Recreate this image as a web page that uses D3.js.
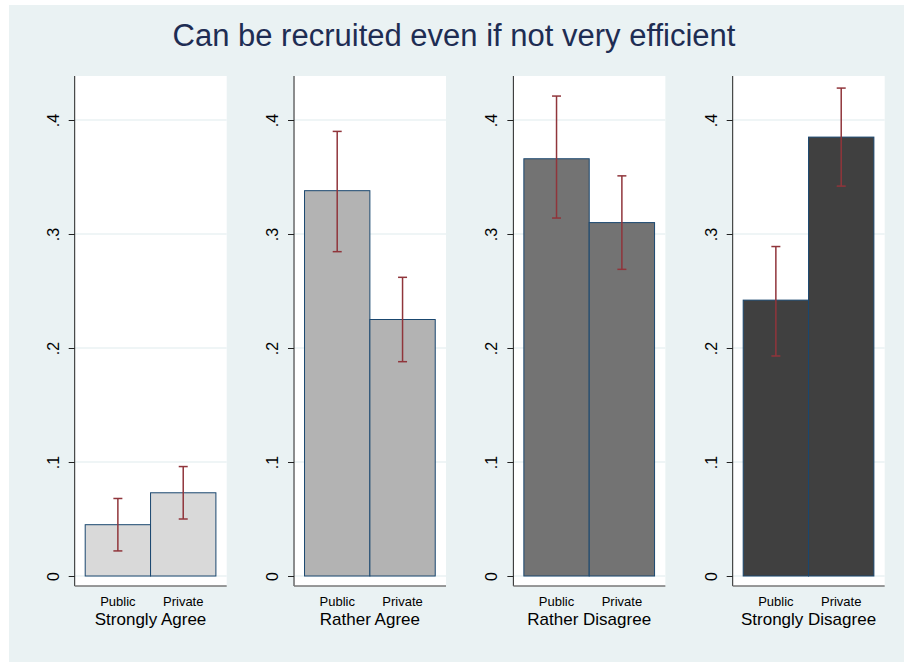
<!DOCTYPE html>
<html><head><meta charset="utf-8">
<script src="https://cdn.jsdelivr.net/npm/d3@7"></script>
<style>body{margin:0;background:#fff}svg{display:block}text{font-family:"Liberation Sans",Arial,Helvetica,sans-serif}</style>
</head><body>
<script>
const title = "Can be recruited even if not very efficient";
const groups = ["Strongly Agree","Rather Agree","Rather Disagree","Strongly Disagree"];
const sectors = ["Public","Private"];
const publicMean = [0.045, 0.338, 0.366, 0.242];
const publicLo   = [0.022, 0.2845, 0.314, 0.193];
const publicHi   = [0.068, 0.390, 0.421, 0.289];
const privateMean= [0.073, 0.225, 0.310, 0.385];
const privateLo  = [0.050, 0.188, 0.269, 0.342];
const privateHi  = [0.096, 0.262, 0.351, 0.428];
const yTicks = [0, 0.1, 0.2, 0.3, 0.4];
const yTickLabels = ["0", ".1", ".2", ".3", ".4"];
const barColors = ["#d9d9d9","#b3b3b3","#737373","#404040"];

const W = 904, H = 662;
const svg = d3.select("body").append("svg").attr("width", W).attr("height", H);
svg.append("rect").attr("x",9).attr("y",5).attr("width",W-9).attr("height",H-5).attr("fill","#eaf2f3");
svg.append("text").attr("x",454).attr("y",46).attr("text-anchor","middle")
  .attr("font-size",31).attr("fill","#1e2d53").text(title);

const y = d3.scaleLinear().domain([0,0.4]).range([576,120]);
const plotTop = 76, plotBottom = 586, plotW = 152;

groups.forEach((g,i)=>{
  const ax = 74.7 + i*219.33;
  const gp = svg.append("g");
  gp.append("rect").attr("x",ax).attr("y",plotTop).attr("width",plotW).attr("height",plotBottom-plotTop).attr("fill","#fff");
  gp.selectAll("line.grid").data(yTicks).enter().append("line")
    .attr("x1",ax).attr("x2",ax+plotW).attr("y1",d=>y(d)).attr("y2",d=>y(d))
    .attr("stroke","#eaf2f3").attr("stroke-width",1.5);
  const x = d3.scaleBand().domain(sectors).range([ax+10.5, ax+141.2]).padding(0);
  const rows = [
    {s:"Public", m:publicMean[i], lo:publicLo[i], hi:publicHi[i]},
    {s:"Private", m:privateMean[i], lo:privateLo[i], hi:privateHi[i]}
  ];
  gp.selectAll("rect.bar").data(rows).enter().append("rect")
    .attr("x",d=>x(d.s)).attr("width",x.bandwidth())
    .attr("y",d=>y(d.m)).attr("height",d=>y(0)-y(d.m))
    .attr("fill",barColors[i]).attr("stroke","#1a476f").attr("stroke-width",1);
  const eb = gp.selectAll("g.eb").data(rows).enter().append("g").attr("stroke","#90353b").attr("stroke-width",1.5);
  eb.append("line").attr("x1",d=>x(d.s)+x.bandwidth()/2).attr("x2",d=>x(d.s)+x.bandwidth()/2)
    .attr("y1",d=>y(d.lo)).attr("y2",d=>y(d.hi));
  eb.append("line").attr("x1",d=>x(d.s)+x.bandwidth()/2-4.5).attr("x2",d=>x(d.s)+x.bandwidth()/2+4.5)
    .attr("y1",d=>y(d.lo)).attr("y2",d=>y(d.lo));
  eb.append("line").attr("x1",d=>x(d.s)+x.bandwidth()/2-4.5).attr("x2",d=>x(d.s)+x.bandwidth()/2+4.5)
    .attr("y1",d=>y(d.hi)).attr("y2",d=>y(d.hi));
  const yAxis = d3.axisLeft(y).tickValues(yTicks).tickFormat((d,k)=>yTickLabels[k]).tickSize(6).tickPadding(4);
  const ya = gp.append("g").attr("transform",`translate(${ax},0)`).call(yAxis);
  ya.select(".domain").attr("d",`M0,${plotTop}V${plotBottom}`).attr("stroke","#222");
  ya.selectAll(".tick line").attr("stroke","#222");
  ya.selectAll(".tick text").attr("font-size",16).attr("fill","#000")
    .attr("font-family","Liberation Sans, Arial, sans-serif")
    .attr("transform","rotate(-90)").attr("x",0).attr("y",-16).attr("dy",0).attr("text-anchor","middle");
  const xAxis = d3.axisBottom(x).tickSize(0).tickPadding(11);
  const xa = gp.append("g").attr("transform",`translate(0,${plotBottom})`).call(xAxis);
  xa.select(".domain").attr("d",`M${ax},0H${ax+plotW}`).attr("stroke","#777").attr("stroke-width",1.5);
  xa.selectAll(".tick text").attr("font-size",13).attr("fill","#000").attr("font-family","Liberation Sans, Arial, sans-serif");
  gp.append("text").attr("x",ax+10.5+65.35).attr("y",624.5).attr("text-anchor","middle")
    .attr("font-size",17).attr("fill","#000").text(g);
});
</script>
</body></html>
